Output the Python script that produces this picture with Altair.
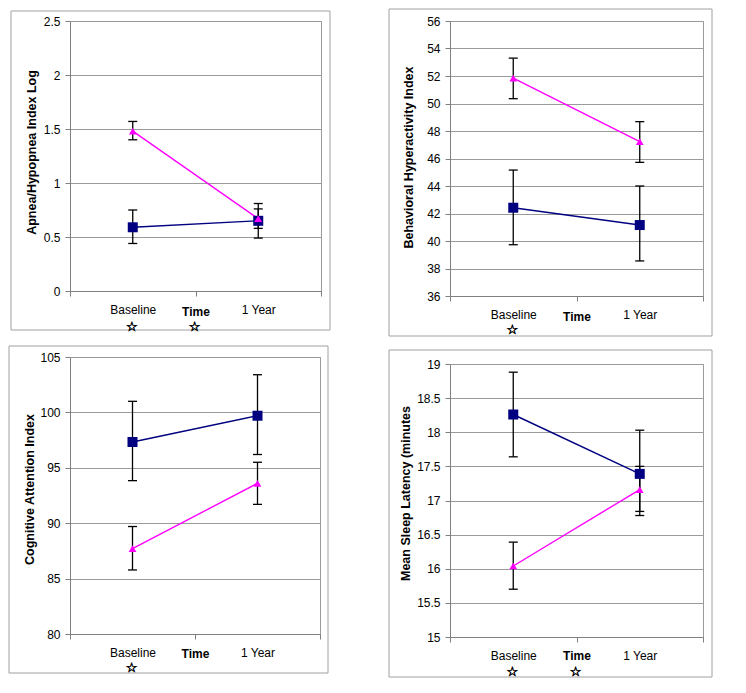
import altair as alt
import pandas as pd
import numpy as np

# ---------------- data ----------------
times = ["Baseline", "1 Year"]
series_names = ["Group A", "Group B"]

apnea_a = [0.59, 0.65]
apnea_a_lo = [0.44, 0.49]
apnea_a_hi = [0.75, 0.81]
apnea_b = [1.48, 0.67]
apnea_b_lo = [1.40, 0.58]
apnea_b_hi = [1.57, 0.76]

hyper_a = [42.42, 41.16]
hyper_a_lo = [39.73, 38.55]
hyper_a_hi = [45.16, 44.00]
hyper_b = [51.85, 47.22]
hyper_b_lo = [50.35, 45.72]
hyper_b_hi = [53.30, 48.68]

attn_a = [97.33, 99.70]
attn_a_lo = [93.84, 96.20]
attn_a_hi = [101.00, 103.40]
attn_b = [87.70, 93.60]
attn_b_lo = [85.78, 91.70]
attn_b_hi = [89.70, 95.50]

sleep_a = [18.26, 17.39]
sleep_a_lo = [17.64, 16.78]
sleep_a_hi = [18.88, 18.03]
sleep_b = [16.04, 17.16]
sleep_b_lo = [15.70, 16.84]
sleep_b_hi = [16.39, 17.50]

apnea_stars = ["Baseline", "Time"]
hyper_stars = ["Baseline"]
attn_stars = ["Baseline"]
sleep_stars = ["Baseline", "Time"]

NAVY = "#000080"
MAGENTA = "#FF00FF"
GRID = "#9a9a9a"
FRAME = "#a0a0a0"
FONT = "Liberation Sans"

star_pos = {"Baseline": 0.5, "Time": 1.0}


def make_panel(title, ydom, ystep, a, a_lo, a_hi, b, b_lo, b_hi, stars, L):
    W, H = L["w"], L["h"]
    rows = []
    for name, v, lo, hi in [(series_names[0], a, a_lo, a_hi), (series_names[1], b, b_lo, b_hi)]:
        for i, t in enumerate(times):
            rows.append({"series": name, "time": t, "xpos": i + 0.5,
                         "value": v[i], "lo": lo[i], "hi": hi[i]})
    df = pd.DataFrame(rows)
    sdf = pd.DataFrame({"star": stars, "xpos": [star_pos[s] for s in stars]})

    label_expr = " : ".join(
        [f"datum.value == {i + 0.5} ? '{t}'" for i, t in enumerate(times)]) + " : ''"
    xaxis = alt.Axis(
        values=[0, 0.5, 1, 1.5, 2], labelExpr=label_expr, grid=False,
        tickSize=5, labelPadding=13, labelBaseline="middle", labelFontSize=12,
        labelFlush=False, labelOverlap=False,
        tickOpacity={"condition": {"test": "datum.value == 0.5 || datum.value == 1.5", "value": 0}, "value": 1},
        title="Time", titleFontWeight="bold", titleFontSize=12,
        titleY=L["tY"], titleBaseline="middle",
    )
    yvals = [float(v) for v in np.arange(ydom[0], ydom[1] + ystep / 2, ystep)]
    yaxis = alt.Axis(
        values=yvals, format="~g", grid=True, gridColor=GRID, tickSize=5,
        labelPadding=5, labelFontSize=12, title=title, titleFontWeight="bold",
        titleFontSize=12.5, titleX=L["yX"], titleY=L["yY"], titleBaseline="middle",
        titleAlign="center",
    )
    xs = alt.Scale(domain=[0, 2], nice=False, zero=False)
    ys = alt.Scale(domain=list(ydom), nice=False, zero=False)

    def X(field="xpos"):
        return alt.X(f"{field}:Q", scale=xs, axis=xaxis)

    def Y(field):
        return alt.Y(f"{field}:Q", scale=ys, axis=yaxis)

    one = pd.DataFrame({"k": [0]})
    cx0, cx1, cy0, cy1 = L["cell"]
    fx0, fx1, fy0, fy1 = L["frame"]
    cell = alt.Chart(one).mark_rect(opacity=0).encode(
        x=alt.value(cx0), x2=alt.value(cx1), y=alt.value(cy0), y2=alt.value(cy1))
    frame = alt.Chart(one).mark_rect(filled=False, stroke=FRAME, strokeWidth=1).encode(
        x=alt.value(fx0), x2=alt.value(fx1), y=alt.value(fy0), y2=alt.value(fy1))

    base = alt.Chart(df)
    bars = base.mark_rule(color="black", strokeWidth=1.3).encode(
        x=X(), y=Y("lo"), y2="hi:Q")
    cap_lo = base.mark_rule(color="black", strokeWidth=1.3, xOffset=-4.5, x2Offset=4.5).encode(
        x=X(), x2="xpos:Q", y=Y("lo"))
    cap_hi = base.mark_rule(color="black", strokeWidth=1.3, xOffset=-4.5, x2Offset=4.5).encode(
        x=X(), x2="xpos:Q", y=Y("hi"))
    lines = base.mark_line(strokeWidth=1.4).encode(
        x=X(), y=Y("value"),
        color=alt.Color("series:N", scale=alt.Scale(domain=series_names, range=[NAVY, MAGENTA]), legend=None))
    pts_a = base.transform_filter(alt.datum.series == series_names[0]).mark_point(
        shape="square", filled=True, size=100, color=NAVY, opacity=1).encode(x=X(), y=Y("value"))
    pts_b = base.transform_filter(alt.datum.series == series_names[1]).mark_point(
        shape="triangle-up", filled=True, size=60, color=MAGENTA, opacity=1).encode(x=X(), y=Y("value"))
    star_layer = alt.Chart(sdf).mark_text(
        text="\u2606", font="DejaVu Sans", fontSize=13, fontWeight="bold", baseline="middle",
        color="black", stroke="black", strokeWidth=0.6, dx=-1).encode(x=X(), y=alt.value(H + L["sY"]))

    return alt.layer(cell, frame, bars, cap_lo, cap_hi, lines, pts_a, pts_b, star_layer).properties(
        width=W, height=H)


L1 = {"w": 251, "h": 270, "cell": (-59, 260, -12, 315), "frame": (-59, 260, -10, 309),
      "yX": -39, "yY": 131, "tY": 20.5, "sY": 35.5}
L2 = {"w": 253, "h": 275, "cell": (-61, 262, -12, 315), "frame": (-61, 262, -12, 315),
      "yX": -42, "yY": 136, "tY": 20, "sY": 34}
L3 = {"w": 250, "h": 277, "cell": (-61, 258, -11, 320), "frame": (-61, 258, -11, 316),
      "yX": -41, "yY": 132, "tY": 19.5, "sY": 34}
L4 = {"w": 253, "h": 273, "cell": (-61, 262, -18, 313), "frame": (-61, 262, -14, 313),
      "yX": -45, "yY": 129, "tY": 18, "sY": 35}

p1 = make_panel("Apnea/Hypopnea Index Log", (0, 2.5), 0.5,
                apnea_a, apnea_a_lo, apnea_a_hi, apnea_b, apnea_b_lo, apnea_b_hi, apnea_stars, L1)
p2 = make_panel("Behavioral Hyperactivity Index", (36, 56), 2,
                hyper_a, hyper_a_lo, hyper_a_hi, hyper_b, hyper_b_lo, hyper_b_hi, hyper_stars, L2)
p3 = make_panel("Cognitive Attention Index", (80, 105), 5,
                attn_a, attn_a_lo, attn_a_hi, attn_b, attn_b_lo, attn_b_hi, attn_stars, L3)
p4 = make_panel("Mean Sleep Latency (minutes", (15, 19), 0.5,
                sleep_a, sleep_a_lo, sleep_a_hi, sleep_b, sleep_b_lo, sleep_b_hi, sleep_stars, L4)

chart = alt.concat(p1, p2, p3, p4, columns=2, spacing={"row": 7, "column": 57}, align="none").properties(
    padding=0, background="white"
).configure_view(stroke=GRID, strokeWidth=1).configure_axis(
    domainColor="#808080", tickColor="#808080", labelColor="black", titleColor="black",
    labelFont=FONT, titleFont=FONT,
)

chart.save("out.html", embed_options={"renderer": "svg", "actions": False})
